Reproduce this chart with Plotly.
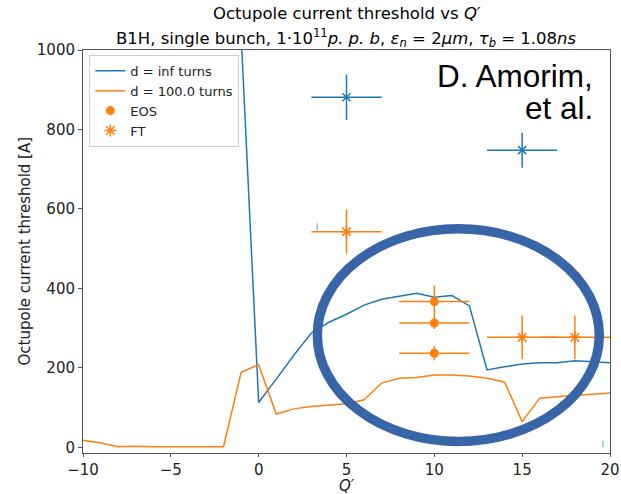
import plotly.graph_objects as go

# Simulated threshold curves vs chromaticity
q_inf = [-1, 0, 1, 2, 3, 4, 5, 6, 7, 8, 9, 10, 11, 12, 13, 14, 15, 16, 17, 18, 19, 20]
thr_inf = [1040, 113, 172, 232, 288, 315, 335, 358, 373, 380, 388, 378, 382, 356,
           195, 203, 210, 213, 213, 218, 215, 213]

q_100 = list(range(-10, 21))
thr_100 = [18, 11, 2, 3, 2, 2, 2, 2, 2, 189, 208, 84, 97, 103, 107, 110, 120, 162, 174,
           176, 182, 182, 180, 174, 164, 65, 124, 128, 131, 134, 137]

# Measurements: EOS (orange circles)
eos_q = [10, 10, 10]
eos_thr = [367, 313, 237]
eos_dq = [2, 2, 2]
eos_dthr = [40, 15, 18]

# Measurements: FT (orange)
ft_q = [5, 15, 18]
ft_thr = [543, 277, 277]
ft_dq = [2, 2, 2]
ft_dthr = [55, 55, 55]

# Measurements: FT (blue)
ftb_q = [5, 15]
ftb_thr = [881, 748]
ftb_dq = [2, 2]
ftb_dthr = [57, 44]

# Small blue error segments
seg_q = [3.33, 19.6]
seg_lo = [546, 0]
seg_hi = [564, 17]

BLUE = "#1f77b4"
ORANGE = "#ff7f0e"
FONT = "DejaVu Sans"

fig = go.Figure()

fig.add_trace(go.Scatter(x=q_inf, y=thr_inf, mode="lines", name="d = inf turns",
                         line=dict(color=BLUE, width=1.5)))
fig.add_trace(go.Scatter(x=q_100, y=thr_100, mode="lines", name="d = 100.0 turns",
                         line=dict(color=ORANGE, width=1.5)))

fig.add_trace(go.Scatter(
    x=eos_q, y=eos_thr, mode="markers", name="EOS",
    marker=dict(color=ORANGE, size=9, symbol="circle"),
    error_x=dict(type="data", array=eos_dq, color=ORANGE, thickness=1.5, width=0),
    error_y=dict(type="data", array=eos_dthr, color=ORANGE, thickness=1.5, width=0)))

fig.add_trace(go.Scatter(
    x=ft_q, y=ft_thr, mode="markers", name="FT",
    marker=dict(color=ORANGE, size=10, symbol="asterisk-open",
                line=dict(color=ORANGE, width=1.5)),
    error_x=dict(type="data", array=ft_dq, color=ORANGE, thickness=1.5, width=0),
    error_y=dict(type="data", array=ft_dthr, color=ORANGE, thickness=1.5, width=0)))

fig.add_trace(go.Scatter(
    x=ftb_q, y=ftb_thr, mode="markers", showlegend=False,
    marker=dict(color=BLUE, size=8, symbol="x-thin", line=dict(color=BLUE, width=1.5)),
    error_x=dict(type="data", array=ftb_dq, color=BLUE, thickness=1.5, width=0),
    error_y=dict(type="data", array=ftb_dthr, color=BLUE, thickness=1.5, width=0)))

seg_x, seg_y = [], []
for q, lo, hi in zip(seg_q, seg_lo, seg_hi):
    seg_x += [q, q, None]
    seg_y += [lo, hi, None]
fig.add_trace(go.Scatter(x=seg_x, y=seg_y, mode="lines", showlegend=False,
                         line=dict(color=BLUE, width=1.2), opacity=0.6))

# Highlight ellipse
fig.add_shape(type="circle", xref="x", yref="y", x0=3.34, x1=19.39, y0=15, y1=550,
              line=dict(color="#3765a8", width=9.5), layer="above")

title1 = "Octupole current threshold vs <i>Q′</i>"
title2 = ("B1H, single bunch, 1·10<sup>11</sup><i>p. p. b</i>, <i>ε<sub>n</sub></i> = 2<i>μm</i>, "
          "<i>τ<sub>b</sub></i> = 1.08<i>ns</i>")

annotations = [
    dict(text=title1, x=0.5, y=1.0, xref="paper", yref="paper", yshift=37,
         showarrow=False, xanchor="center", yanchor="middle",
         font=dict(family=FONT, size=16.5, color="#000")),
    dict(text=title2, x=0.5, y=1.0, xref="paper", yref="paper", yshift=12,
         showarrow=False, xanchor="center", yanchor="middle",
         font=dict(family=FONT, size=16.5, color="#000")),
    dict(text="D. Amorim,", x=0.971, y=0.9355, xref="paper", yref="paper",
         showarrow=False, xanchor="right", yanchor="middle",
         font=dict(family="Liberation Sans", size=31.5, color="#000")),
    dict(text="et al.", x=0.971, y=0.855, xref="paper", yref="paper",
         showarrow=False, xanchor="right", yanchor="middle",
         font=dict(family="Liberation Sans", size=31.5, color="#000")),
    # axis titles
    dict(text="<i>Q′</i>", x=0.5, y=0.0, xref="paper", yref="paper", yshift=-33,
         showarrow=False, xanchor="center", yanchor="middle", borderpad=0,
         font=dict(family=FONT, size=15, color="#222")),
    dict(text="Octupole current threshold [A]", x=0.0, y=0.5, xref="paper", yref="paper",
         xshift=-59, textangle=-90, showarrow=False, xanchor="center", yanchor="middle",
         font=dict(family=FONT, size=15, color="#222")),
]

axis_common = dict(showline=True, linecolor="#555", linewidth=1, mirror=True,
                   ticks="outside", tickcolor="#555", showgrid=False,
                   zeroline=False, automargin=False,
                   tickfont=dict(family=FONT, size=15, color="#222"))

fig.update_layout(
    width=621, height=494,
    margin=dict(l=83, r=11, t=50, b=41),
    paper_bgcolor="white", plot_bgcolor="white",
    font=dict(family=FONT, size=14, color="#222"),
    annotations=annotations,
    xaxis=dict(range=[-10, 20], tickvals=[-10, -5, 0, 5, 10, 15, 20], ticklen=3,
               **axis_common),
    yaxis=dict(range=[-14, 1000], tickvals=[0, 200, 400, 600, 800, 1000], ticklen=4,
               **axis_common),
    legend=dict(x=0.012, y=0.988, xanchor="left", yanchor="top",
                bgcolor="rgba(255,255,255,0.8)", bordercolor="#d0d0d0", borderwidth=1,
                font=dict(family=FONT, size=13, color="#222"), tracegroupgap=0),
    showlegend=True,
)

fig.write_html("out.html")
